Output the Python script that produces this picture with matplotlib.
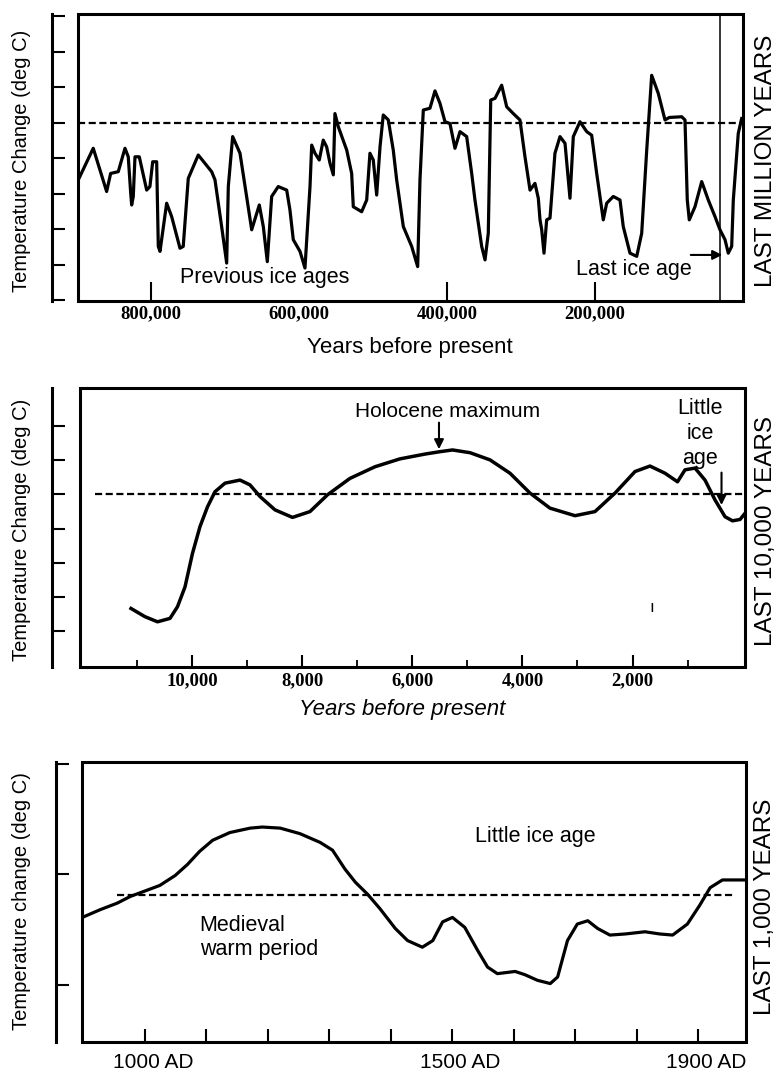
import numpy as np
import matplotlib.pyplot as plt
from matplotlib.patches import Rectangle
from matplotlib.transforms import ScaledTranslation

plt.rcParams['font.family'] = ['Liberation Sans', 'DejaVu Sans']

W, H = 780, 1073

# Last million years: thousands of years before present, temperature change (deg C)
mil_kyr = [898.2, 878.0, 859.9, 854.5, 844.2, 835.1, 830.7, 827.4, 826.1, 823.9,
           821.6, 815.8, 805.8, 801.4, 797.7, 792.3, 790.1, 787.8, 778.8, 772.0,
           760.8, 756.4, 749.6, 736.1, 718.0, 713.5, 704.5, 697.7, 695.5, 689.6,
           679.7, 670.7, 663.9, 653.6, 648.2, 642.8, 636.9, 628.0, 616.6, 612.2,
           607.7, 598.6, 591.9, 585.1, 582.8, 578.4, 572.6, 567.2, 562.6, 558.1,
           553.6, 551.4, 546.9, 535.5, 528.8, 526.6, 515.3, 508.5, 504.1, 499.6,
           495.0, 490.5, 486.1, 479.3, 472.6, 468.0, 459.0, 447.7, 439.6, 436.5,
           432.0, 423.0, 416.2, 409.5, 402.7, 396.0, 389.2, 382.4, 373.4, 366.6,
           362.2, 353.1, 348.6, 344.2, 340.9, 335.1, 326.1, 319.3, 310.4, 301.4,
           294.6, 287.8, 281.1, 276.6, 274.3, 272.0, 268.9, 265.3, 260.8, 254.1,
           247.3, 240.5, 233.8, 229.3, 220.3, 211.2, 204.5, 197.7, 188.8, 184.2,
           175.3, 166.2, 161.8, 152.7, 143.6, 136.9, 130.1, 123.4, 114.5, 105.4,
           99.6, 82.8, 78.4, 75.3, 72.6, 64.9, 55.8, 46.9, 37.8, 31.1,
           24.3, 19.9, 15.3, 13.1, 6.4, 1.8]
mil_temp = [-1.61, -0.72, -1.94, -1.43, -1.38, -0.72, -0.96, -1.98, -2.32, -2.08,
            -0.96, -0.96, -1.90, -1.80, -1.10, -1.10, -3.49, -3.63, -2.27, -2.65,
            -3.54, -3.49, -1.57, -0.91, -1.38, -1.61, -2.93, -3.96, -1.80, -0.39,
            -0.86, -2.08, -3.02, -2.32, -2.93, -3.92, -2.08, -1.80, -1.90, -2.46,
            -3.30, -3.63, -4.10, -1.80, -0.63, -0.86, -1.05, -0.49, -0.68, -1.14,
            -1.47, 0.26, -0.11, -0.77, -1.43, -2.37, -2.51, -2.18, -0.86, -1.05,
            -2.04, -0.68, 0.22, 0.08, -0.77, -1.61, -2.93, -3.49, -4.06, -1.61,
            0.36, 0.41, 0.90, 0.55, 0.03, -0.02, -0.72, -0.25, -0.39, -1.43,
            -2.18, -3.49, -3.87, -3.12, 0.64, 0.69, 1.06, 0.45, 0.26, 0.08,
            -0.96, -1.90, -1.71, -2.13, -2.74, -3.02, -3.68, -2.74, -2.69, -0.86,
            -0.39, -0.58, -2.13, -0.39, 0.03, -0.25, -0.35, -1.43, -2.74, -2.27,
            -2.08, -2.18, -2.93, -3.68, -3.77, -3.12, -0.77, 1.34, 0.83, 0.08,
            0.15, 0.17, 0.08, -2.18, -2.74, -2.37, -1.66, -2.18, -2.65, -3.02,
            -3.30, -3.68, -3.49, -2.18, -0.30, 0.12]
mil_ticks = [800, 600, 400, 200]
mil_ticklabels = ['800,000', '600,000', '400,000', '200,000']
mil_last_glacial = 31.1

# Last 10,000 years
hol_years = [11117, 10863, 10635, 10408, 10272, 10135, 9999, 9863, 9726, 9590,
             9408, 9135, 8954, 8772, 8499, 8181, 7863, 7545, 7136, 6681,
             6227, 5772, 5499, 5272, 4954, 4590, 4227, 3863, 3500, 3045,
             2682, 2318, 1954, 1682, 1409, 1182, 1045, 864, 682, 500,
             318, 182, 45, -45]
hol_temp = [-3.33, -3.57, -3.72, -3.62, -3.28, -2.70, -1.72, -0.94, -0.36, 0.08,
            0.33, 0.42, 0.28, -0.06, -0.45, -0.67, -0.50, -0.01, 0.47, 0.81,
            1.04, 1.18, 1.25, 1.30, 1.22, 1.01, 0.62, 0.04, -0.40, -0.62,
            -0.50, 0.04, 0.67, 0.83, 0.62, 0.37, 0.72, 0.77, 0.42, -0.16,
            -0.65, -0.77, -0.73, -0.55]
hol_ticks = [10000, 8000, 6000, 4000, 2000]
hol_ticklabels = ['10,000', '8,000', '6,000', '4,000', '2,000']
hol_minor = [11000, 9000, 7000, 5000, 3000, 1000]
hol_ref_span = (11772, -45)

# Last 1,000 years
ad_years = [898, 927, 955, 976, 1000, 1024, 1049, 1069, 1089, 1110,
            1138, 1171, 1191, 1220, 1252, 1285, 1305, 1325, 1342, 1362,
            1382, 1407, 1427, 1451, 1468, 1484, 1500, 1520, 1541, 1557,
            1573, 1602, 1618, 1638, 1659, 1671, 1687, 1703, 1720, 1736,
            1756, 1781, 1813, 1837, 1858, 1882, 1902, 1919, 1939, 1959, 1976]
ad_temp = [-0.39, -0.32, -0.26, -0.20, -0.15, -0.10, -0.01, 0.09, 0.21, 0.31,
           0.38, 0.42, 0.43, 0.42, 0.37, 0.29, 0.22, 0.05, -0.07, -0.18,
           -0.31, -0.49, -0.60, -0.66, -0.60, -0.43, -0.39, -0.48, -0.69, -0.84,
           -0.90, -0.88, -0.91, -0.96, -0.99, -0.93, -0.60, -0.45, -0.42, -0.49,
           -0.55, -0.54, -0.52, -0.54, -0.55, -0.45, -0.28, -0.12, -0.05, -0.05,
           -0.05]
ad_ticks = [1000, 1100, 1200, 1300, 1400, 1500, 1600, 1700, 1800, 1900]
ad_ticklabels = ['1000 AD', '', '', '', '', '1500 AD', '', '', '', '1900 AD']
ad_ref_level = -0.19
ad_ref_span = (955, 1959)


def px_axes(fig, left, top, right, bottom):
    return fig.add_axes([left / W, 1 - bottom / H, (right - left) / W, (bottom - top) / H])


def frame_panel(ax, spine_px):
    # box drawn as a patch, left spine pushed out to carry the y ticks
    for s in ['top', 'right', 'bottom']:
        ax.spines[s].set_visible(False)
    ax.spines['left'].set_position(('outward', spine_px * 0.72))
    ax.spines['left'].set_linewidth(2.2)
    ax.add_patch(Rectangle((0, 0), 1, 1, transform=ax.transAxes, fill=False,
                           lw=2.2, color='black', clip_on=False, zorder=5))
    ax.tick_params(axis='y', direction='in', length=9.4, width=1.5, labelleft=False)


fig = plt.figure(figsize=(W / 100, H / 100), dpi=100)

# ---- panel 1: last million years
ax1 = px_axes(fig, 78, 14, 743, 301)
frame_panel(ax1, 26)
ax1.plot(mil_kyr, mil_temp, color='black', lw=2.3, solid_joinstyle='round')
ax1.axhline(0, color='black', lw=1.6, ls=(0, (3.2, 1.6)))
ax1.axvline(mil_last_glacial, color='black', lw=1.1)
ax1.set_xlim(898.6, 0)
ax1.set_ylim(-5.03, 3.07)
ax1.set_yticks(np.arange(-5, 4, 1))
ax1.set_xticks(mil_ticks)
ax1.set_xticklabels(mil_ticklabels, family='Liberation Serif', weight='bold', fontsize=13.5)
ax1.tick_params(axis='x', direction='in', length=13.5, width=1.5, pad=3)
ax1.xaxis.get_major_ticks()[1].tick1line.set_visible(False)
ax1.text(646, -4.37, 'Previous ice ages', fontsize=15.5, ha='center', va='center')
ax1.text(147, -4.15, 'Last ice age', fontsize=15.5, ha='center', va='center')
ax1.annotate('', xy=(24.3, -3.73), xytext=(74.3, -3.73),
             arrowprops=dict(arrowstyle='-|>', color='black', lw=1.5, mutation_scale=14))

# ---- panel 2: last 10,000 years
ax2 = px_axes(fig, 80, 388, 745, 667)
frame_panel(ax2, 28)
ax2.plot(hol_years, hol_temp, color='black', lw=2.5, solid_joinstyle='round')
ax2.hlines(0, hol_ref_span[0], hol_ref_span[1], color='black', lw=1.6, ls=(0, (3.2, 1.6)))
ax2.set_xlim(12044, -45)
ax2.set_ylim(-5.04, 3.11)
ax2.set_yticks(np.arange(-4, 3, 1))
ax2.set_xticks(hol_ticks)
ax2.set_xticks(hol_minor, minor=True)
ax2.set_xticklabels(hol_ticklabels, family='Liberation Serif', weight='bold', fontsize=13.5)
ax2.tick_params(axis='x', which='major', direction='in', length=8.6, width=1.5, pad=4)
ax2.tick_params(axis='x', which='minor', direction='in', length=5, width=1.3)
ax2.text(5363, 2.42, 'Holocene maximum', fontsize=15, ha='center', va='center')
ax2.annotate('', xy=(5518, 1.24), xytext=(5518, 2.18),
             arrowprops=dict(arrowstyle='-|>', color='black', lw=1.5, mutation_scale=14))
ax2.text(773, 1.77, 'Little\nice\nage', fontsize=15.5, ha='center', va='center',
         multialignment='center', linespacing=1.25)
ax2.annotate('', xy=(382, -0.39), xytext=(382, 0.72),
             arrowprops=dict(arrowstyle='-|>', color='black', lw=1.5, mutation_scale=14))
ax2.text(1645, -3.29, 'ı', fontsize=12, ha='center', va='center')

# ---- panel 3: last 1,000 years
ax3 = px_axes(fig, 82, 762, 746, 1042)
frame_panel(ax3, 26)
ax3.plot(ad_years, ad_temp, color='black', lw=2.3, solid_joinstyle='round')
ax3.hlines(ad_ref_level, ad_ref_span[0], ad_ref_span[1], color='black', lw=1.6,
           ls=(0, (3.2, 1.6)))
ax3.set_xlim(897.6, 1977.3)
ax3.set_ylim(-1.52, 1.02)
ax3.set_yticks([1, 0, -1])
ax3.set_xticks(ad_ticks)
ax3.set_xticklabels(ad_ticklabels, fontsize=15)
ax3.tick_params(axis='x', direction='in', length=9.4, width=1.5, pad=8)
for lab in ax3.get_xticklabels():
    lab.set_transform(lab.get_transform() + ScaledTranslation(0.08, 0, fig.dpi_scale_trans))
ax3.text(1634, 0.34, 'Little ice age', fontsize=15.5, ha='center', va='center')
ax3.text(1089, -0.57, 'Medieval\nwarm period', fontsize=15.5, ha='left', va='center',
         linespacing=1.2)

# axis titles and side labels
fig.text(22 / W, 1 - 161 / H, 'Temperature Change (deg C)', rotation=90,
         ha='center', va='center', fontsize=14.5)
fig.text(22 / W, 1 - 530 / H, 'Temperature Change (deg C)', rotation=90,
         ha='center', va='center', fontsize=14.5)
fig.text(22 / W, 1 - 901 / H, 'Temperature change (deg C)', rotation=90,
         ha='center', va='center', fontsize=14.5)
fig.text(766 / W, 1 - 161 / H, 'LAST MILLION YEARS', rotation=90,
         ha='center', va='center', fontsize=17.5)
fig.text(766 / W, 1 - 531 / H, 'LAST 10,000 YEARS', rotation=90,
         ha='center', va='center', fontsize=17.5)
fig.text(765 / W, 1 - 907 / H, 'LAST 1,000 YEARS', rotation=90,
         ha='center', va='center', fontsize=17.5)
fig.text(410 / W, 1 - 347 / H, 'Years before present', ha='center', va='center',
         fontsize=16)
fig.text(402 / W, 1 - 710 / H, 'Years before present', ha='center', va='center',
         fontsize=16, style='italic')

fig.savefig('out.png', dpi=100)
